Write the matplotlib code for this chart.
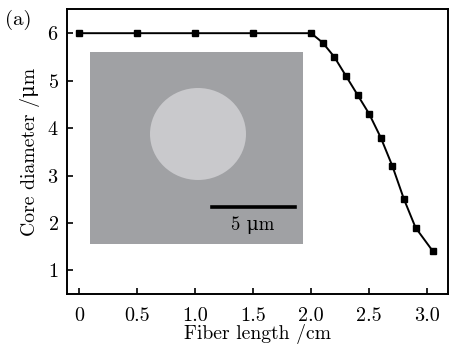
import matplotlib
matplotlib.use("Agg")
from matplotlib import pyplot as plt
from matplotlib.patches import Rectangle, Ellipse

plt.rcParams['font.family'] = ['cmr10', 'DejaVu Serif']
plt.rcParams['mathtext.fontset'] = 'cm'
plt.rcParams['axes.formatter.use_mathtext'] = True

# fiber length (cm) vs core diameter (um)
length = [0, 0.5, 1.0, 1.5, 2.0, 2.1, 2.2, 2.3, 2.4, 2.5, 2.6, 2.7, 2.8, 2.9, 3.05]
diameter = [6, 6, 6, 6, 6, 5.8, 5.5, 5.1, 4.7, 4.3, 3.8, 3.2, 2.5, 1.9, 1.4]

xticks = [0, 0.5, 1.0, 1.5, 2.0, 2.5, 3.0]
xticklabels = ["0", "0.5", "1.0", "1.5", "2.0", "2.5", "3.0"]
yticks = [1, 2, 3, 4, 5, 6]

fig = plt.figure(figsize=(4.49, 3.46), dpi=100)
ax = fig.add_axes([0.149, 0.150, 0.849, 0.824])

ax.plot(length, diameter, color="black", lw=1.4, marker="s", markersize=4, zorder=3)

ax.set_xlim(-0.103, 3.18)
ax.set_ylim(0.5, 6.51)
ax.set_xticks(xticks)
ax.set_xticklabels(xticklabels)
ax.set_yticks(yticks)
ax.tick_params(direction="in", length=4, width=1.2, labelsize=14.5, pad=6)
ax.tick_params(axis="x", pad=9.5)
for s in ax.spines.values():
    s.set_linewidth(1.4)

ax.set_xlabel("Fiber length /cm", fontsize=14.2, labelpad=-1)
ax.set_ylabel("Core diameter /μm", fontsize=14.2, labelpad=5)

# cross-section inset (figure pixel coords)
W, H = 449.0, 346.0
def fx(px):
    return px / W
def fy(py):
    return 1 - py / H

fig.patches.append(Rectangle((fx(90), fy(244)), (303 - 90) / W, (244 - 52) / H,
                             transform=fig.transFigure, facecolor="#a0a1a4",
                             edgecolor="none", zorder=2))
fig.patches.append(Ellipse((fx(198), fy(134)), 96 / W, 92 / H,
                           transform=fig.transFigure, facecolor="#c9c9cc",
                           edgecolor="none", zorder=2))
bar = plt.Line2D([fx(212), fx(295)], [fy(207), fy(207)],
                 transform=fig.transFigure, color="black", lw=2.6, zorder=5)
fig.add_artist(bar)
fig.text(fx(253), fy(225), "5 μm", ha="center", va="center", fontsize=13.5, zorder=5)

fig.text(fx(5), fy(20), "(a)", ha="left", va="center", fontsize=15)

plt.savefig("out.png", dpi=100)
